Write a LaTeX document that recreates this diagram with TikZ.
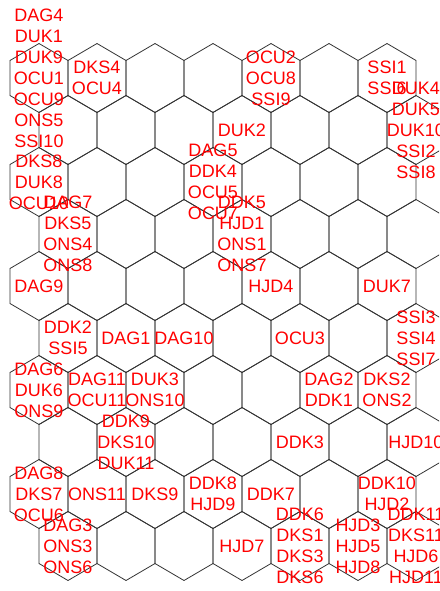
\documentclass[tikz,border=0pt]{standalone}
\usepackage{fontspec}
\setmainfont{Liberation Sans}
\usetikzlibrary{positioning}

\begin{document}
\begin{tikzpicture}[
    x=1pt, y=-1pt,
    hexcell/.style={draw=black!80, line width=0.8pt},
    lbl/.style={text=red, font=\fontsize{18}{21}\selectfont, align=center, inner sep=0pt}
]
    % Frame: the grid runs past the right edge and is cut there
    \useasboundingbox (0,0) rectangle (439,591);
    \clip (0,0) rectangle (439,591);

    % Grid: 10 rows of 7 cells, odd rows shifted half a cell right
    \foreach \r in {0,...,9} {
        \foreach \c in {0,...,6} {
            \pgfmathsetmacro{\cx}{39 + 58*\c + 29*mod(\r,2)}
            \pgfmathsetmacro{\cy}{78 + 52*\r}
            \coordinate (h-\r-\c) at (\cx,\cy);
            \draw[hexcell, shift={(\cx,\cy)}] (0,-34.5) -- (29,-17.5) -- (29,17.5) -- (0,34.5) -- (-29,17.5) -- (-29,-17.5) -- cycle;
        }
    }

    % Cell labels, centred on their cells
    \node[lbl] (n-0-0) at (h-0-0) {DAG4\\DUK1\\DUK9\\OCU1\\OCU9\\ONS5\\SSI10};
    \node[lbl] (n-0-1) at (h-0-1) {DKS4\\OCU4};
    \node[lbl] (n-0-4) at (h-0-4) {OCU2\\OCU8\\SSI9};
    \node[lbl] (n-0-6) at (h-0-6) {SSI1\\SSI6};
    \node[lbl] (n-1-3) at (h-1-3) {DUK2};
    \node[lbl] (n-1-6) at (h-1-6) {DUK4\\DUK5\\DUK10\\SSI2\\SSI8};
    \node[lbl] (n-2-0) at (h-2-0) {DKS8\\DUK8\\OCU10};
    \node[lbl] (n-2-3) at (h-2-3) {DAG5\\DDK4\\OCU5\\OCU7};
    \node[lbl] (n-3-0) at (h-3-0) {DAG7\\DKS5\\ONS4\\ONS8};
    \node[lbl] (n-3-3) at (h-3-3) {DDK5\\HJD1\\ONS1\\ONS7};
    \node[lbl] (n-4-0) at (h-4-0) {DAG9};
    \node[lbl] (n-4-4) at (h-4-4) {HJD4};
    \node[lbl] (n-4-6) at (h-4-6) {DUK7};
    \node[lbl] (n-5-0) at (h-5-0) {DDK2\\SSI5};
    \node[lbl] (n-5-1) at (h-5-1) {DAG1};
    \node[lbl] (n-5-2) at (h-5-2) {DAG10};
    \node[lbl] (n-5-4) at (h-5-4) {OCU3};
    \node[lbl] (n-5-6) at (h-5-6) {SSI3\\SSI4\\SSI7};
    \node[lbl] (n-6-0) at (h-6-0) {DAG6\\DUK6\\ONS9};
    \node[lbl] (n-6-1) at (h-6-1) {DAG11\\OCU11};
    \node[lbl] (n-6-2) at (h-6-2) {DUK3\\ONS10};
    \node[lbl] (n-6-5) at (h-6-5) {DAG2\\DDK1};
    \node[lbl] (n-6-6) at (h-6-6) {DKS2\\ONS2};
    \node[lbl] (n-7-1) at (h-7-1) {DDK9\\DKS10\\DUK11};
    \node[lbl] (n-7-4) at (h-7-4) {DDK3};
    \node[lbl] (n-7-6) at (h-7-6) {HJD10};
    \node[lbl] (n-8-0) at (h-8-0) {DAG8\\DKS7\\OCU6};
    \node[lbl] (n-8-1) at (h-8-1) {ONS11};
    \node[lbl] (n-8-2) at (h-8-2) {DKS9};
    \node[lbl] (n-8-3) at (h-8-3) {DDK8\\HJD9};
    \node[lbl] (n-8-4) at (h-8-4) {DDK7};
    \node[lbl] (n-8-6) at (h-8-6) {DDK10\\HJD2};
    \node[lbl] (n-9-0) at (h-9-0) {DAG3\\ONS3\\ONS6};
    \node[lbl] (n-9-3) at (h-9-3) {HJD7};
    \node[lbl] (n-9-4) at (h-9-4) {DDK6\\DKS1\\DKS3\\DKS6};
    \node[lbl] (n-9-5) at (h-9-5) {HJD3\\HJD5\\HJD8};
    \node[lbl] (n-9-6) at (h-9-6) {DDK11\\DKS11\\HJD6\\HJD11};
\end{tikzpicture}
\end{document}
